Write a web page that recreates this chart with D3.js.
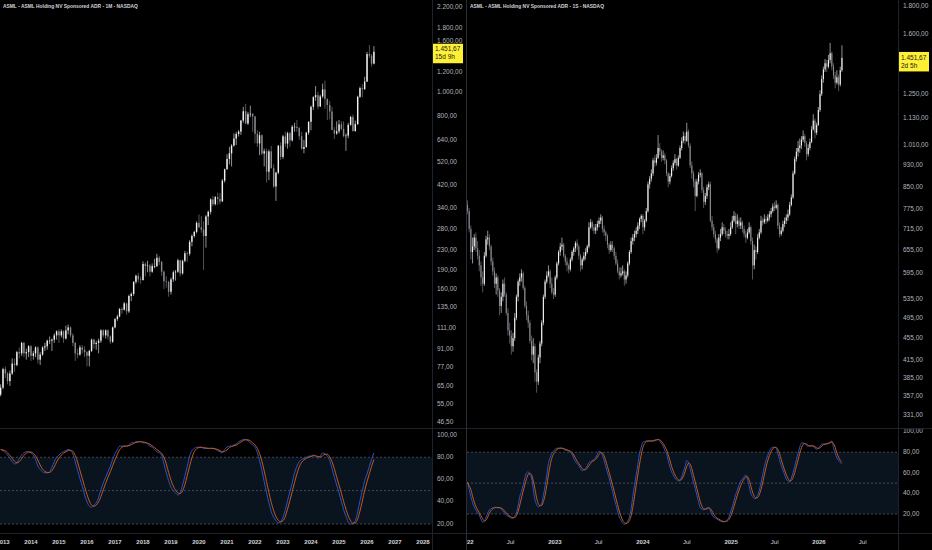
<!DOCTYPE html>
<html>
<head>
<meta charset="utf-8">
<script src="https://cdn.jsdelivr.net/npm/d3@7"></script>
<style>
html, body { margin: 0; background: #000; }
svg { display: block; }
</style>
</head>
<body>
<svg id="chart" width="932" height="550"></svg>
<script>
// ---- monthly bars (Dec 2012 .. Apr 2026), [open, high, low, close] ----
const monthlyBars = [
  [60,66,59,64],
  [64,77,63,76],[76,78,70,73],[73,74,66,68],[68,75,65,73],[73,84,72,80],[80,84,74,79],[79,90,78,89],[89,93,84,88],[88,98,86,97],[97,98,85,88],[88,92,83,89],[89,95,85,94],
  [94,95,82,86],[86,90,83,88],[88,94,85,93],[93,94,80,83],[83,89,79,87],[87,94,86,93],[93,97,90,94],[94,100,91,99],[99,103,96,99],[99,101,90,100],[100,106,97,104],[104,109,100,108],
  [108,110,97,104],[104,110,102,108],[108,109,97,101],[101,114,100,109],[109,115,105,112],[112,113,102,104],[104,106,94,97],[97,98,82,88],[88,92,84,87],[87,95,86,93],[93,95,88,91],[91,94,85,89],
  [89,90,78,86],[86,91,78,90],[90,101,89,100],[100,101,92,96],[96,99,91,97],[97,101,88,99],[99,110,97,109],[109,110,102,104],[104,110,101,109],[109,110,100,103],[103,104,96,98],[98,113,97,112],
  [112,122,111,121],[121,126,119,124],[124,134,123,133],[133,135,127,132],[132,142,131,140],[140,141,126,130],[130,152,128,150],[150,155,143,153],[153,172,150,171],[171,183,168,181],[181,186,170,175],[175,180,168,174],
  [174,207,173,202],[202,205,180,198],[198,208,187,199],[199,202,180,188],[188,203,186,198],[198,212,194,198],[198,222,196,214],[214,218,200,206],[206,208,181,188],[188,190,160,172],[172,180,162,171],[171,173,149,156],
  [156,178,152,175],[175,190,171,187],[187,191,173,188],[188,212,186,209],[209,210,180,185],[185,210,183,208],[208,228,205,223],[223,226,206,222],[222,252,218,248],[248,266,238,262],[262,275,258,272],[272,300,268,296],
  [296,320,282,284],[284,315,270,278],[278,300,191,262],[262,318,235,314],[314,332,290,328],[328,372,320,368],[368,380,345,352],[352,380,348,376],[376,392,350,369],[369,390,352,361],[361,445,360,438],[438,490,430,487],
  [487,560,485,536],[536,600,510,565],[565,615,500,607],[607,680,600,648],[648,690,610,676],[676,700,660,691],[691,770,670,766],[766,870,750,835],[835,895,740,745],[745,830,735,813],[813,880,790,816],[816,820,690,796],
  [796,800,620,677],[677,700,600,619],[619,690,555,668],[668,675,555,564],[564,590,500,576],[576,590,430,476],[476,585,440,575],[575,605,490,492],[492,510,410,415],[415,475,363,472],[472,610,465,606],[606,625,530,546],
  [546,670,535,661],[661,690,600,618],[618,690,590,681],[681,690,600,637],[637,735,630,723],[723,750,690,723],[723,770,690,716],[716,720,640,662],[662,690,585,589],[589,640,565,599],[599,690,595,684],[684,760,670,757],
  [757,880,700,870],[870,960,845,952],[952,1055,920,970],[970,1000,850,872],[872,975,870,958],[958,1080,945,1023],[1023,1110,855,936],[936,940,770,885],[885,920,775,833],[833,870,700,701],[701,720,645,679],[679,760,670,693],
  [693,770,680,739],[739,760,700,709],[709,760,655,663],[663,680,578,666],[666,750,650,736],[736,800,730,792],[792,810,690,695],[695,765,690,741],[741,965,735,955],[955,1050,945,1035],[1035,1075,950,1025],[1025,1150,1020,1100],
  [1100,1450,1095,1420],[1420,1545,1370,1400],[1400,1420,1265,1300],[1300,1530,1290,1451.67]
];

// ---- monthly stochastic %K (Dec 2012 .. Apr 2026) ----
const monthlyStochK = [
  87,
  86,84,82,79,76,74,75,79,82,84,85,85,
  84,82,78,72,69,67,66,66,67,71,76,80,
  82,84,85,86,87,86,83,76,68,61,54,46,
  40,36,35,37,39,44,51,57,62,67,72,78,
  83,87,90,90,90,90,91,93,93,94,94,94,
  93,93,92,90,89,87,85,84,82,74,66,59,
  53,50,48,46,48,55,63,72,81,86,88,89,
  89,89,88,88,88,88,88,87,86,85,84,87,
  89,90,90,91,92,94,95,96,96,95,93,91,
  89,84,77,68,58,48,39,31,26,23,21,22,
  26,33,41,49,57,66,72,76,78,79,80,81,
  81,82,81,79,81,84,83,81,77,70,62,55,
  48,40,33,27,22,20,20,23,31,41,50,59,
  65,72,78,84
];

// ---- weekly bars (week of 3 Jan 2022 .. week of 6 Apr 2026), [open, high, low, close] ----
const weeklyBars = [
  [790,805,760,770],[770,780,705,715],[715,725,630,650],[650,690,620,665],[665,700,655,690],[690,705,650,660],[660,680,630,640],[640,655,600,615],
  [615,625,565,585],[585,600,550,570],[570,650,565,640],[640,695,635,685],[685,710,670,690],[690,700,655,665],[665,670,615,625],[625,635,590,600],
  [600,610,560,570],[570,595,545,585],[585,590,540,555],[555,560,500,520],[520,550,505,540],[540,580,530,570],[570,585,540,545],[545,550,500,505],
  [505,515,460,470],[470,485,445,460],[460,470,425,440],[440,465,430,455],[455,505,450,495],[495,545,490,540],[540,580,530,575],[575,595,565,585],
  [585,605,575,595],[595,600,555,560],[560,565,515,520],[520,530,490,500],[500,510,475,485],[485,490,445,450],[450,460,415,425],[425,455,410,440],
  [440,445,380,395],[395,400,363,380],[380,425,375,420],[420,450,410,445],[445,490,440,485],[485,545,480,540],[540,580,535,575],[575,600,570,590],
  [590,615,585,600],[600,605,560,570],[570,585,545,550],[550,560,535,545],
  [545,590,540,585],[585,625,580,620],[620,655,615,650],[650,675,640,665],[665,690,655,670],[670,675,635,640],[640,645,615,625],[625,635,600,615],
  [615,620,595,605],[605,635,600,630],[630,655,625,650],[650,665,640,660],[660,680,650,675],[675,685,655,665],[665,670,630,640],[640,645,600,615],
  [615,635,605,630],[630,650,625,640],[640,660,630,650],[650,670,645,665],[665,735,660,720],[720,745,715,735],[735,740,710,720],[720,730,700,710],
  [710,730,700,720],[720,740,710,730],[730,750,720,740],[740,760,730,750],[750,755,705,715],[715,725,695,705],[705,710,680,695],[695,700,660,670],
  [670,675,645,655],[655,680,650,670],[670,680,650,660],[660,665,630,640],[640,650,615,620],[620,630,595,600],[600,610,580,590],[590,610,585,595],
  [595,615,590,600],[600,605,565,580],[580,600,570,590],[590,625,585,620],[620,655,615,650],[650,690,645,680],[680,700,670,690],[690,710,680,700],
  [700,720,690,710],[710,735,700,725],[725,750,715,745],[745,760,735,755],
  [755,760,700,720],[720,745,710,740],[740,780,735,770],[770,870,765,860],[860,890,845,880],[880,915,870,900],[900,960,890,950],[950,970,925,940],
  [940,975,930,960],[960,1055,955,1000],[1000,1020,970,985],[985,995,945,960],[960,990,950,970],[970,980,935,950],[950,955,890,900],[900,905,850,870],
  [870,900,860,890],[890,930,885,920],[920,950,910,940],[940,975,930,955],[955,960,915,930],[930,970,925,960],[960,1010,955,1000],[1000,1045,990,1030],
  [1030,1070,1020,1050],[1050,1065,1015,1030],[1030,1110,1025,1070],[1070,1080,1000,1010],[1010,1020,920,930],[930,945,880,900],[900,910,850,870],[870,880,770,820],
  [820,880,815,870],[870,905,860,895],[895,915,885,900],[900,905,830,840],[840,850,780,800],[800,830,790,820],[820,860,810,850],[850,870,840,860],
  [860,870,735,740],[740,755,710,720],[720,730,690,700],[700,710,675,685],[685,690,648,660],[660,700,655,690],[690,715,680,700],[700,735,695,720],
  [720,730,700,710],[710,720,690,700],[700,710,685,695],[695,715,685,700],
  [700,735,695,720],[720,755,715,740],[740,770,735,755],[755,765,700,730],[730,760,720,740],[740,750,715,725],[725,750,715,735],[735,740,705,715],
  [715,725,690,700],[700,710,675,690],[690,715,685,705],[705,735,700,720],[720,725,670,680],[680,690,580,615],[615,670,605,655],[655,665,630,650],
  [650,700,645,690],[690,715,685,705],[705,755,700,740],[740,750,725,735],[735,760,730,745],[745,755,730,740],[740,760,735,750],[750,770,740,760],
  [760,780,750,770],[770,795,765,785],[785,800,770,780],[780,805,775,790],[790,795,715,725],[725,735,690,700],[700,720,695,710],[710,740,705,730],
  [730,750,720,740],[740,760,730,750],[750,775,740,760],[760,800,755,790],[790,825,785,815],[815,910,810,900],[900,965,895,955],[955,1000,945,985],
  [985,1030,965,1000],[1000,1040,980,1010],[1010,1050,995,1035],[1035,1075,1025,1050],[1050,1060,1005,1020],[1020,1030,950,975],[975,1015,965,1000],[1000,1040,990,1025],
  [1025,1095,1020,1080],[1080,1150,1075,1120],[1120,1130,1040,1065],[1065,1110,1055,1100],
  [1100,1185,1095,1170],[1170,1270,1160,1250],[1250,1350,1240,1330],[1330,1400,1310,1385],[1385,1445,1370,1420],[1420,1440,1370,1400],[1400,1470,1390,1440],[1440,1545,1420,1480],
  [1480,1490,1380,1400],[1400,1420,1330,1350],[1350,1370,1280,1310],[1310,1380,1300,1340],[1340,1355,1265,1300],[1300,1400,1290,1380],[1380,1530,1370,1451.67]
];

// ---- weekly stochastic %K ----
const weeklyStochK = [
  51,44,37,31,27,24,21,19,15,12,13,17,21,
  24,25,26,26.5,26.5,26,26,25,23,21,19,18,17,
  16,16,18,21,28,37,42,48,55,60,61,58,55,
  44,34,29,27,28,30,38,47,58,69,75,79,81,
  83,84,84,84,84,83,82,82,81,80,78,74,71,
  69,67,64,62,63,64,67,70,71,72,73,75,78,
  81,80,77,72,66,60,55,48,42,35,29,23,17,
  14,11,10,11,13,17,25,37,48,58,68,79,85,
  90,90.5,91,91,91,91,91,92,92.5,92.5,91,88.7,86,
  82,79,72,66,61,58,55,53,52,53,56,61,66,
  72,70,64,58,51,45,38,32,26,25,24,25,26,
  26.5,23,19,17,16,15,14,13,12.5,12.5,13,14,17,
  22,27,33,39,43,48,52,54,56,58,54,47,40,
  37,35,35,38,43,50,58,66,72,77,81,84,85,
  85,84,79,73,67,63,58,54,52,51,55,60,66,
  73,79,85,89,89,88,86.5,86,86,86.5,86,84,83,
  84,86,88,88,88,88.5,89,90,91,84.5,79,74.5,72,70,69
];

// ---- axis ticks ----
const leftPriceTicks = [2200, 1800, 1600, 1200, 1000, 800, 640, 520, 420, 340, 280, 230, 190, 160, 135, 111, 91, 77, 65, 55, 46.5];
const rightPriceTicks = [1800, 1600, 1250, 1130, 1010, 930, 850, 775, 715, 655, 595, 535, 495, 455, 415, 385, 357, 331];
const stochTicks = [100, 80, 60, 40, 20];
const stochLevels = [80, 50, 20];
const leftTimeTicks = [2013, 2014, 2015, 2016, 2017, 2018, 2019, 2020, 2021, 2022, 2023, 2024, 2025, 2026, 2027, 2028];
const rightTimeTicks = [
  ['2022-01-01', '2022'], ['2022-07-01', 'Jul'], ['2023-01-01', '2023'], ['2023-07-01', 'Jul'],
  ['2024-01-01', '2024'], ['2024-07-01', 'Jul'], ['2025-01-01', '2025'], ['2025-07-01', 'Jul'],
  ['2026-01-01', '2026'], ['2026-07-01', 'Jul']
];
const lastPrice = 1451.67;

const svg = d3.select('#chart');
const defs = svg.append('defs');
const FONT = '"Liberation Sans", Arial, sans-serif';
const fmt = d3.formatLocale({ decimal: ',', thousands: '.', grouping: [3], currency: ['', ''] }).format(',.2f');

svg.append('rect').attr('width', 932).attr('height', 550).attr('fill', '#000');

const parse = d3.timeParse('%Y-%m-%d');

const panels = [
  {
    id: 'm',
    left: 0, plotRight: 432, right: 466,
    title: 'ASML - ASML Holding NV Sponsored ADR - 1M - NASDAQ',
    bars: monthlyBars,
    dates: monthlyBars.map((d, i) => new Date(2012, 11 + i, 1)),
    k: monthlyStochK,
    y: d3.scaleLog().domain([2200, 46.5]).range([7, 422]),
    priceTicks: leftPriceTicks,
    s: d3.scaleLinear().domain([100, 20]).range([435, 524]),
    x: d3.scaleTime().domain([new Date(2013, 0, 1), new Date(2028, 0, 1)]).range([3, 423]),
    timeTicks: leftTimeTicks.map(yr => [new Date(yr, 0, 1), String(yr), true]),
    bodyW: 1.4,
    countdown: '15d 9h',
    boxOffset: -8
  },
  {
    id: 'w',
    left: 467, plotRight: 898, right: 932,
    title: 'ASML - ASML Holding NV Sponsored ADR - 1S - NASDAQ',
    bars: weeklyBars,
    dates: weeklyBars.map((d, i) => new Date(2022, 0, 3 + 7 * i)),
    k: weeklyStochK,
    y: d3.scaleLog().domain([1800, 331]).range([6, 415]),
    priceTicks: rightPriceTicks,
    s: d3.scaleLinear().domain([100, 20]).range([431.7, 514]),
    x: d3.scaleTime().domain([new Date(2022, 0, 1), new Date(2027, 0, 1)]).range([467, 907]),
    timeTicks: rightTimeTicks.map(t => [parse(t[0]), t[1], t[1] !== 'Jul']),
    bodyW: 1.1,
    countdown: '2d 5h',
    boxOffset: -6
  }
];

panels.forEach(drawPanel);

// separator between the two charts
svg.append('line')
  .attr('x1', 466.5).attr('x2', 466.5).attr('y1', 0).attr('y2', 550)
  .attr('stroke', '#2a2e39').attr('stroke-width', 1);

function drawPanel(p) {
  const g = svg.append('g');
  const plotW = p.plotRight - p.left;

  // clip areas
  defs.append('clipPath').attr('id', 'price-' + p.id)
    .append('rect').attr('x', p.left).attr('y', 0).attr('width', plotW).attr('height', 428);
  defs.append('clipPath').attr('id', 'stoch-' + p.id)
    .append('rect').attr('x', p.left).attr('y', 428.5).attr('width', plotW).attr('height', 104.5);
  defs.append('clipPath').attr('id', 'time-' + p.id)
    .append('rect').attr('x', p.left).attr('y', 533).attr('width', plotW).attr('height', 17);
  defs.append('clipPath').attr('id', 'axis-' + p.id)
    .append('rect').attr('x', p.plotRight).attr('y', 0).attr('width', p.right - p.plotRight).attr('height', 533);

  // stochastic pane background band and levels
  const sg = g.append('g').attr('clip-path', `url(#stoch-${p.id})`);
  sg.append('rect')
    .attr('x', p.left).attr('width', plotW)
    .attr('y', p.s(80)).attr('height', p.s(20) - p.s(80))
    .attr('fill', '#0a141e');
  sg.selectAll('line.lvl').data(stochLevels).enter().append('line')
    .attr('x1', p.left).attr('x2', p.plotRight)
    .attr('y1', d => p.s(d)).attr('y2', d => p.s(d))
    .attr('stroke', '#5d606b').attr('stroke-width', 0.7).attr('stroke-dasharray', '2,2');

  // %K and %D (3 bar mean of %K)
  const kPts = p.k.map((v, i) => [p.dates[i], v]);
  const dPts = p.k.map((v, i) => {
    const w = p.k.slice(Math.max(0, i - 2), i + 1);
    return [p.dates[i], d3.mean(w)];
  });
  const line = d3.line().x(d => p.x(d[0])).y(d => p.s(d[1])).curve(d3.curveMonotoneX);
  sg.append('path').attr('d', line(kPts)).attr('fill', 'none').attr('stroke', '#2b53c4').attr('stroke-width', 1);
  sg.append('path').attr('d', line(dPts)).attr('fill', 'none').attr('stroke', '#c55a1c').attr('stroke-width', 1);

  // price bars
  const pg = g.append('g').attr('clip-path', `url(#price-${p.id})`);
  const bars = pg.selectAll('g.bar').data(p.bars).enter().append('g');
  const col = d => d[3] >= d[0] ? '#f2f2f2' : '#8a8c92';
  bars.append('line')
    .attr('x1', (d, i) => p.x(p.dates[i])).attr('x2', (d, i) => p.x(p.dates[i]))
    .attr('y1', d => p.y(d[1])).attr('y2', d => p.y(d[2]))
    .attr('stroke', col).attr('stroke-width', 0.6);
  bars.append('rect')
    .attr('x', (d, i) => p.x(p.dates[i]) - p.bodyW / 2)
    .attr('width', p.bodyW)
    .attr('y', d => p.y(Math.max(d[0], d[3])))
    .attr('height', d => Math.max(0.6, Math.abs(p.y(d[0]) - p.y(d[3]))))
    .attr('fill', col);

  // title
  g.append('text')
    .attr('x', p.left + 3).attr('y', 7)
    .attr('dominant-baseline', 'middle')
    .attr('font-family', FONT).attr('font-size', 4.9).attr('font-weight', 'bold')
    .attr('fill', '#d1d4dc')
    .text(p.title);

  // price axis labels
  const ag = g.append('g').attr('clip-path', `url(#axis-${p.id})`);
  ag.selectAll('text.price').data(p.priceTicks).enter().append('text')
    .attr('x', p.plotRight + 5).attr('y', d => p.y(d))
    .attr('dominant-baseline', 'middle')
    .attr('font-family', FONT).attr('font-size', 6.5)
    .attr('fill', '#b2b5be')
    .text(d => fmt(d));
  ag.selectAll('text.stoch').data(stochTicks).enter().append('text')
    .attr('x', p.plotRight + 5).attr('y', d => p.s(d))
    .attr('dominant-baseline', 'middle')
    .attr('font-family', FONT).attr('font-size', 6.5)
    .attr('fill', '#b2b5be')
    .text(d => fmt(d));

  // last price tag
  const ly = p.y(lastPrice);
  const tag = g.append('g');
  tag.append('rect')
    .attr('x', p.plotRight).attr('y', ly + p.boxOffset)
    .attr('width', p.right - p.plotRight - 3).attr('height', 19.5)
    .attr('fill', '#fff034');
  tag.append('text')
    .attr('x', p.plotRight + 3).attr('y', ly + p.boxOffset + 6)
    .attr('dominant-baseline', 'middle')
    .attr('font-family', FONT).attr('font-size', 6.5).attr('fill', '#131722')
    .text(fmt(lastPrice));
  tag.append('text')
    .attr('x', p.plotRight + 3).attr('y', ly + p.boxOffset + 14)
    .attr('dominant-baseline', 'middle')
    .attr('font-family', FONT).attr('font-size', 6.5).attr('fill', '#131722')
    .text(p.countdown);

  // time axis
  const tg = g.append('g').attr('clip-path', `url(#time-${p.id})`);
  tg.selectAll('text').data(p.timeTicks).enter().append('text')
    .attr('x', d => p.x(d[0])).attr('y', 542)
    .attr('text-anchor', 'middle').attr('dominant-baseline', 'middle')
    .attr('font-family', FONT).attr('font-size', 6)
    .attr('font-weight', d => d[2] ? 'bold' : 'normal')
    .attr('fill', '#d1d4dc')
    .text(d => d[1]);

  // pane borders
  const border = '#1e222d';
  g.append('line').attr('x1', p.left).attr('x2', p.right).attr('y1', 428.5).attr('y2', 428.5).attr('stroke', border);
  g.append('line').attr('x1', p.left).attr('x2', p.right).attr('y1', 533.5).attr('y2', 533.5).attr('stroke', border);
  g.append('line').attr('x1', p.plotRight + 0.5).attr('x2', p.plotRight + 0.5).attr('y1', 0).attr('y2', 550).attr('stroke', border);
}
</script>
</body>
</html>
